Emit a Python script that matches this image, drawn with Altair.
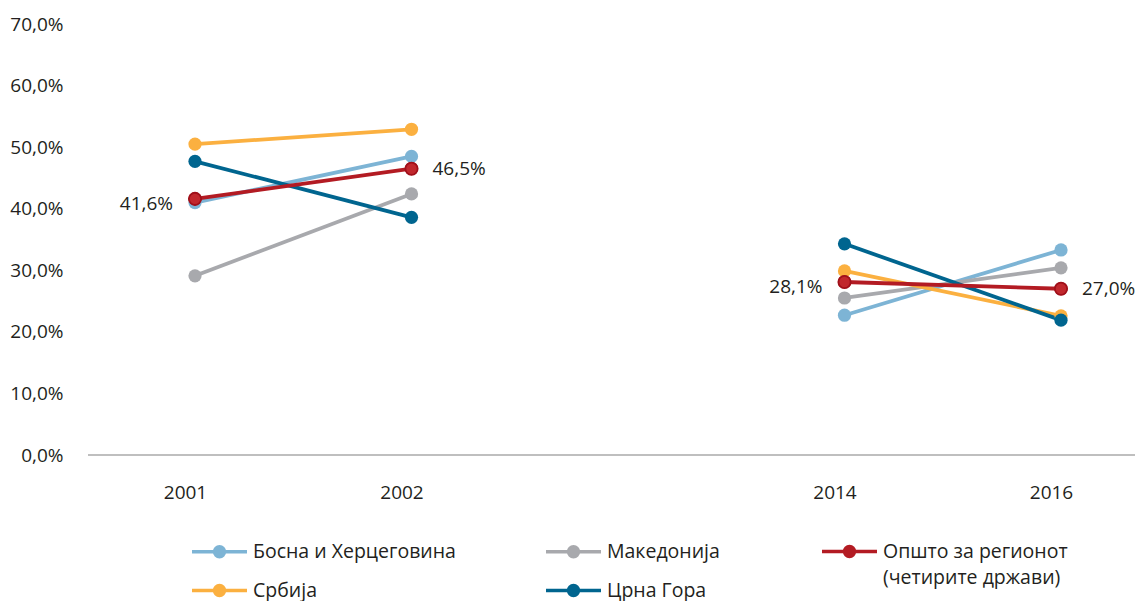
import altair as alt
import pandas as pd

years = ["2001", "2002", "2014", "2016"]
x_domain = ["2001", "2002", "gap", "2014", "2016"]

series_bih = "Босна и Херцеговина"
series_mak = "Македонија"
series_all = "Општо за регионот (четирите држави)"
series_srb = "Србија"
series_cg = "Црна Гора"

series_order = [series_bih, series_srb, series_mak, series_cg, series_all]
series_colors = ["#7db4d5", "#fbb040", "#a8a9ad", "#00658f", "#b31b23"]

bih = [41.0, 48.5, 22.7, 33.3]
mak = [29.1, 42.4, 25.5, 30.4]
srb = [50.5, 52.9, 29.9, 22.6]
cg = [47.7, 38.6, 34.3, 21.9]
overall = [41.6, 46.5, 28.1, 27.0]

draw_order = [(series_bih, bih), (series_mak, mak), (series_srb, srb),
              (series_cg, cg), (series_all, overall)]

rows = []
for name, vals in draw_order:
    for yr, v in zip(years, vals):
        rows.append({"series": name, "year": yr, "value": v})
df = pd.DataFrame(rows)

FONT = "Open Sans"
TXT = "#231f20"
W = 1047

pct_expr = "replace(format(datum.value, '.1f'), '.', ',') + '%'"

# legend symbol: a short line with a dot (unit coords, x spans [-2, 2])
sym_path = ("M-2,0L2,0 "
            "M0.36,0A0.36,0.36 0 1,1 -0.36,0A0.36,0.36 0 1,1 0.36,0 "
            "M0.13,0A0.13,0.13 0 1,1 -0.13,0A0.13,0.13 0 1,1 0.13,0")

legend_common = dict(
    title=None,
    orient="none",
    direction="vertical",
    symbolType=sym_path,
    symbolSize=756,
    symbolStrokeWidth=3.5,
    symbolOpacity=1,
    labelFont=FONT,
    labelFontSize=19.5,
    labelColor=TXT,
    labelOffset=18,
    labelLimit=400,
    rowPadding=11,
)

x_enc = alt.X(
    "year:N",
    scale=alt.Scale(type="point", domain=x_domain, range=[107, 973], padding=0),
    axis=alt.Axis(
        title=None,
        labelExpr="datum.value == 'gap' ? '' : datum.value",
        ticks=False,
        grid=False,
        domain=False,
        labelPadding=28,
        labelOffset=-10,
        labelFontSize=19,
        labelFont=FONT,
        labelColor=TXT,
        labelAngle=0,
    ),
)
y_enc = alt.Y(
    "value:Q",
    scale=alt.Scale(domain=[0, 70], nice=False),
    axis=alt.Axis(
        title=None,
        values=[0, 10, 20, 30, 40, 50, 60, 70],
        labelExpr=pct_expr,
        domain=False,
        ticks=False,
        grid=False,
        labelPadding=25,
        labelFontSize=19,
        labelFont=FONT,
        labelColor=TXT,
    ),
)

color_enc = alt.Color(
    "series:N",
    scale=alt.Scale(domain=series_order, range=series_colors),
    legend=alt.Legend(
        values=[series_bih, series_srb, series_mak, series_cg],
        legendX=116,
        legendY=512,
        columns=2,
        columnPadding=83,
        **legend_common,
    ),
)

fill_enc = alt.Fill(
    "series2:N",
    scale=alt.Scale(domain=series_order[::-1], range=series_colors[::-1]),
    legend=alt.Legend(
        values=[series_all],
        legendX=746,
        legendY=512,
        symbolStrokeColor="#b31b23",
        symbolFillColor="#b31b23",
        labelExpr="['Општо за регионот', '(четирите држави)']",
        **legend_common,
    ),
)

base = alt.Chart(df).transform_calculate(
    period="datum.year == '2001' || datum.year == '2002' ? 'a' : 'b'",
    series2="datum.series",
)

axis_line = alt.Chart(pd.DataFrame({"v": [0]})).mark_rule(
    color="#808080", strokeWidth=1.2
).encode(
    x=alt.value(0), x2=alt.value(W), y=alt.Y("v:Q")
)

lines = base.mark_line(strokeWidth=3.8).encode(
    x=x_enc, y=y_enc, color=color_enc, detail="period:N"
)
points = base.mark_point(filled=True, size=175, opacity=1).encode(
    x=x_enc, y=y_enc, fill=fill_enc
)
red_points = base.transform_filter(
    alt.datum.series == series_all
).mark_point(filled=True, size=150, opacity=1, fill="#c1272d",
             stroke="#a0101a", strokeWidth=1.8).encode(x=x_enc, y=y_enc)

labels_left = base.transform_filter(
    (alt.datum.series == series_all) & ((alt.datum.year == "2001") | (alt.datum.year == "2014"))
).transform_calculate(lbl="replace(format(datum.value, '.1f'), '.', ',') + '%'").mark_text(
    align="right", baseline="middle", dx=-22, dy=5, fontSize=19, font=FONT, color=TXT
).encode(x=x_enc, y=y_enc, text="lbl:N")

labels_right = base.transform_filter(
    (alt.datum.series == series_all) & ((alt.datum.year == "2002") | (alt.datum.year == "2016"))
).transform_calculate(lbl="replace(format(datum.value, '.1f'), '.', ',') + '%'").mark_text(
    align="left", baseline="middle", dx=21, dy=0, fontSize=19, font=FONT, color=TXT
).encode(x=x_enc, y=y_enc, text="lbl:N")

chart = alt.layer(axis_line, lines, points, red_points, labels_left, labels_right).properties(
    width=W,
    height=431,
    autosize=alt.AutoSizeParams(type="none"),
    padding={"left": 80, "top": 16, "right": 0, "bottom": 146},
).configure(
    background="white",
    view=alt.ViewConfig(stroke=None),
    style={"guide-label": {"lineHeight": 26}},
)

chart.save("out.html", embed_options={"renderer": "svg", "actions": False})
